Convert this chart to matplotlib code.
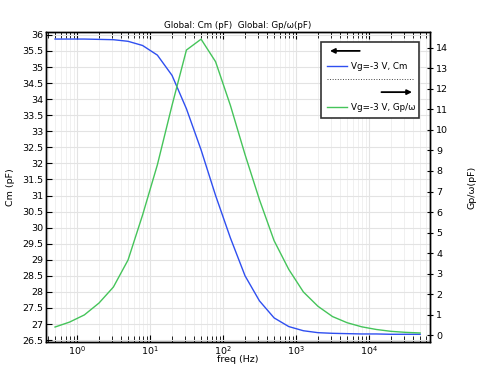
import numpy as np
import matplotlib
matplotlib.use("Agg")
import matplotlib.pyplot as plt
from matplotlib.ticker import LogLocator, FixedLocator, FormatStrFormatter, NullFormatter
from matplotlib.patches import Rectangle

# frequency points (Hz)
freq = [0.5, 0.79, 1.26, 2.0, 3.15, 5.0, 7.9, 12.6, 20, 31.5, 50, 79, 126, 200,
        315, 500, 794, 1259, 1995, 3155, 5000, 7924, 12559, 19905, 31548, 50000]
# Cm (pF), left axis
cm = [35.87, 35.87, 35.87, 35.86, 35.85, 35.80, 35.67, 35.37, 34.74, 33.70,
      32.42, 31.00, 29.68, 28.50, 27.72, 27.19, 26.92, 26.79, 26.73, 26.71,
      26.70, 26.69, 26.69, 26.68, 26.68, 26.68]
# Gp/omega (pF), right axis
gp = [0.39, 0.63, 0.98, 1.56, 2.34, 3.66, 5.85, 8.3, 11.2, 13.9,
      14.43, 13.33, 11.2, 8.8, 6.6, 4.6, 3.2, 2.1, 1.4, 0.9,
      0.6, 0.4, 0.27, 0.18, 0.13, 0.1]

blue = '#2f4ff0'
green = '#45c45a'
fs = 6.8

fig = plt.figure(figsize=(4.79, 3.66), dpi=100)
ax = fig.add_axes([0.096, 0.0656, 0.802, 0.847])
ax2 = ax.twinx()

ax.plot(freq, cm, color=blue, lw=1)
ax2.plot(freq, gp, color=green, lw=1)

ax.set_xscale('log')
ax.set_xlim(0.376, 68500)
ax.set_ylim(26.44, 36.09)
ax2.set_ylim(-0.34, 14.78)

ax.yaxis.set_major_locator(FixedLocator(np.arange(26.5, 36.01, 0.5)))
ax.yaxis.set_major_formatter(FormatStrFormatter('%g'))
ax2.yaxis.set_major_locator(FixedLocator(np.arange(0, 15, 1)))
ax.xaxis.set_major_locator(LogLocator(base=10, numticks=20))
ax.xaxis.set_minor_locator(LogLocator(base=10, subs=np.arange(2, 10), numticks=50))
ax.xaxis.set_minor_formatter(NullFormatter())

ax.grid(True, which='major', color='#e3e3e3', lw=0.8)
ax.grid(True, which='minor', axis='x', color='#eeeeee', lw=0.6)
ax.set_axisbelow(True)

ax.tick_params(axis='x', which='both', direction='in', top=True, labelsize=fs, pad=1.5)
ax.tick_params(axis='x', which='major', length=5)
ax.tick_params(axis='x', which='minor', length=4)
ax.tick_params(axis='y', direction='in', length=4, labelsize=fs, right=False, pad=2)
ax2.tick_params(axis='y', direction='inout', length=5, labelsize=fs, pad=2)

for a in (ax, ax2):
    for s in a.spines.values():
        s.set_linewidth(1.0)

ax.set_xlabel('freq (Hz)', fontsize=fs, labelpad=-1)
ax.set_ylabel('Cm (pF)', fontsize=fs, labelpad=5)
ax2.set_ylabel('Gp/ω(pF)', fontsize=fs, labelpad=14)
ax.set_title('Global: Cm (pF)  Global: Gp/ω(pF)', fontsize=6.3, pad=3)

# legend box drawn by hand (arrows show which axis)
tr = ax2.transAxes
lfs = 6.3
ax2.add_patch(Rectangle((0.716, 0.724), 0.254, 0.244, transform=tr, facecolor='white',
                        edgecolor='#333333', lw=1.2, zorder=5))
ax2.annotate('', xy=(0.732, 0.939), xytext=(0.824, 0.939), xycoords=tr,
             arrowprops=dict(arrowstyle='-|>', color='black', lw=1.3, mutation_scale=7), zorder=6)
ax2.plot([0.732, 0.784], [0.890, 0.890], transform=tr, color=blue, lw=1, zorder=6)
ax2.text(0.794, 0.890, 'Vg=-3 V, Cm', transform=tr, fontsize=lfs, va='center', zorder=6)
ax2.plot([0.732, 0.958], [0.848, 0.848], transform=tr, color='#444444', lw=0.7, ls=':', zorder=6)
ax2.annotate('', xy=(0.960, 0.806), xytext=(0.866, 0.806), xycoords=tr,
             arrowprops=dict(arrowstyle='-|>', color='black', lw=1.3, mutation_scale=7), zorder=6)
ax2.plot([0.732, 0.784], [0.758, 0.758], transform=tr, color=green, lw=1, zorder=6)
ax2.text(0.794, 0.758, 'Vg=-3 V, Gp/ω', transform=tr, fontsize=lfs, va='center', zorder=6)

fig.savefig('out.png', dpi=100)
